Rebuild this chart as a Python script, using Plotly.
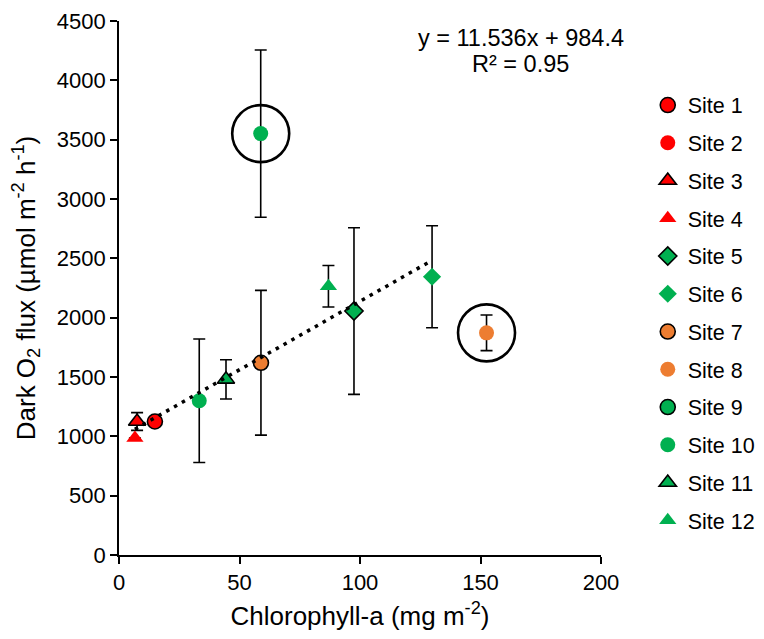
import plotly.graph_objects as go

# ---- data ----
site_names = ["Site 1", "Site 2", "Site 3", "Site 4", "Site 5", "Site 6",
              "Site 7", "Site 8", "Site 9", "Site 10", "Site 11", "Site 12"]
chl = [[14.9], [None], [7.5], [6.6], [97.5], [129.9],
       [58.9], [152.5], [None], [33.3, 58.8], [44.4], [86.9]]
flux = [[1125], [None], [1125], [985], [2056], [2345],
        [1620], [1872], [None], [1300, 3551], [1480], [2265]]
flux_err = [[0], [0], [75], [0], [702], [430],
            [610], [150], [0], [520, 705], [165], [175]]
# points that were circled as outliers (site index, point index)
circled = [(9, 1), (7, 0)]
trend_slope = 11.536
trend_intercept = 984.4
eq_lines = ["y = 11.536x + 984.4", "R² = 0.95"]

# ---- styles ----
RED, GREEN, ORANGE = "#FF0000", "#00B050", "#ED7D31"
styles = [
    (RED, "circle", True), (RED, "circle", False),
    (RED, "triangle-up", True), (RED, "triangle-up", False),
    (GREEN, "diamond", True), (GREEN, "diamond", False),
    (ORANGE, "circle", True), (ORANGE, "circle", False),
    (GREEN, "circle", True), (GREEN, "circle", False),
    (GREEN, "triangle-up", True), (GREEN, "triangle-up", False),
]
FONT = "Arial, 'Liberation Sans', sans-serif"

fig = go.Figure()
for i, name in enumerate(site_names):
    color, sym, outlined = styles[i]
    size = 15 if sym != "diamond" else 14
    fig.add_trace(go.Scatter(
        x=chl[i], y=flux[i], mode="markers", name=name,
        legendgroup=name,
        marker=dict(color=color, symbol=sym, size=size,
                    line=dict(color="black", width=1.6 if outlined else 0)),
        error_y=dict(type="data", array=flux_err[i], visible=True,
                     color="black", thickness=1.6, width=6),
        showlegend=True,
    ))

# trendline over fitted (non-circled) points
circ_set = set(circled)
fit_x = [chl[i][j] for i in range(len(chl)) for j in range(len(chl[i]))
         if (i, j) not in circ_set and chl[i][j] is not None]
x0, x1 = min(fit_x), max(fit_x)
fig.add_trace(go.Scatter(
    x=[x0, x1], y=[trend_slope * x0 + trend_intercept, trend_slope * x1 + trend_intercept],
    mode="lines", line=dict(color="black", width=3.5, dash="3.5px,5.5px"),
    showlegend=False, hoverinfo="skip"))

# outlier rings
fig.add_trace(go.Scatter(
    x=[chl[i][j] for i, j in circled], y=[flux[i][j] for i, j in circled],
    mode="markers", marker=dict(symbol="circle-open", size=57, color="black",
                                line=dict(color="black", width=2.6)),
    showlegend=False, hoverinfo="skip"))

for k, (line, ypos) in enumerate(zip(eq_lines, [0.968, 0.919])):
    fig.add_annotation(text=line, xref="paper", yref="paper", x=0.833, y=ypos,
                       xanchor="center", yanchor="middle", showarrow=False,
                       font=dict(family=FONT, size=23.5, color="black"))

axis_common = dict(showgrid=False, zeroline=False, showline=True, linecolor="black",
                   linewidth=1.6, ticks="outside", ticklen=7, tickcolor="black",
                   tickwidth=1.6, tickfont=dict(family=FONT, size=22, color="black"))
fig.update_xaxes(range=[0, 200], dtick=50, tick0=0,
                 title=dict(text="Chlorophyll-a (mg m<sup>-2</sup>)", standoff=13,
                            font=dict(family=FONT, size=26, color="black")),
                 **axis_common)
fig.update_yaxes(range=[0, 4500], dtick=500, tick0=0,
                 title=dict(text="Dark O<sub>2</sub> flux (µmol m<sup>-2</sup> h<sup>-1</sup>)",
                            standoff=20, font=dict(family=FONT, size=26, color="black")),
                 **axis_common)

fig.update_layout(
    width=756, height=631,
    margin=dict(l=111, r=163, t=13, b=84, autoexpand=False),
    plot_bgcolor="white", paper_bgcolor="white",
    font=dict(family=FONT, color="black"),
    legend=dict(x=1.097, y=0.881, xanchor="left", yanchor="top",
                font=dict(family=FONT, size=21.5, color="black"),
                tracegroupgap=6.8, itemwidth=30, bgcolor="rgba(0,0,0,0)"),
)
fig.write_html("out.html")
